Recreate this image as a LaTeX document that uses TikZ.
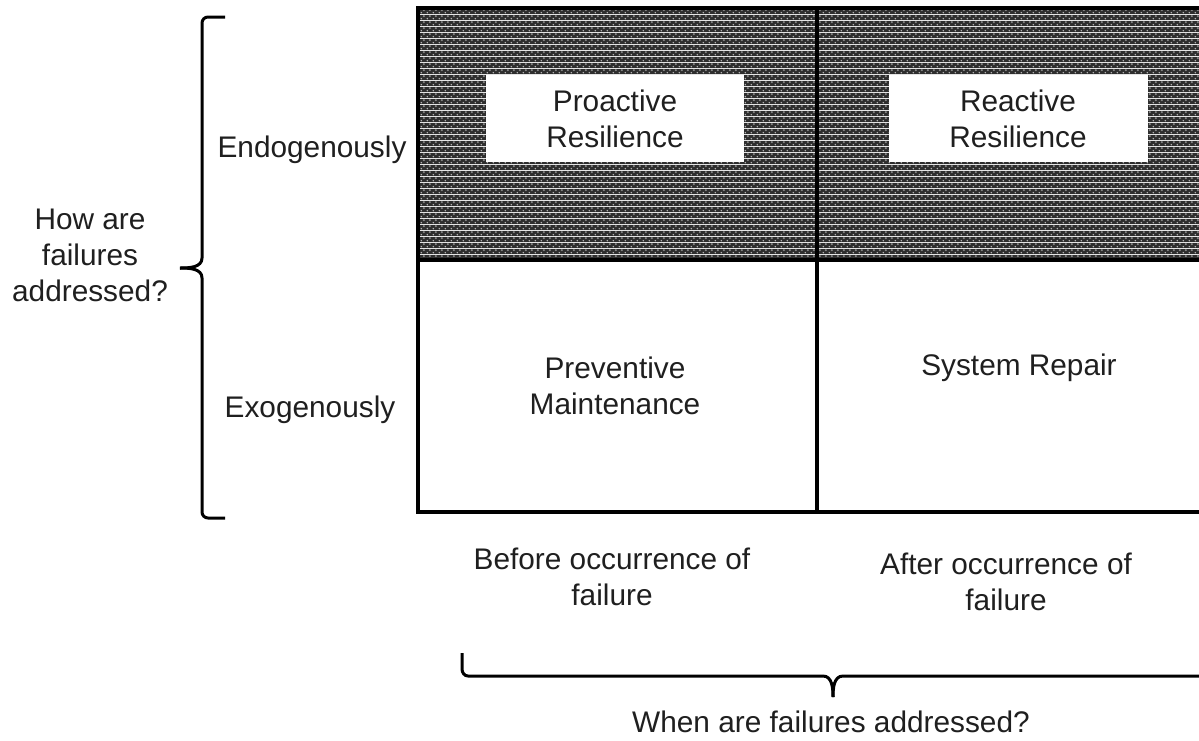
\documentclass[tikz,border=0pt]{standalone}
\usepackage{fontspec}
\setmainfont{Liberation Sans}
\usetikzlibrary{patterns.meta}
\tikzdeclarepattern{
  name=meshdots,
  type=colored,
  bottom left={(0pt,0pt)},
  top right={(6pt,6pt)},
  tile size={(6pt,6pt)},
  code={
    \fill[black!82] (0pt,0pt) rectangle (6pt,6pt);
    \fill[white!75!black] (1.5pt,1.5pt) circle (0.9pt);
    \fill[black!45] (4.5pt,4.5pt) circle (1.3pt);
  }
}
\begin{document}
\begin{tikzpicture}[x=1pt,y=-1pt,
  lbl/.style={font=\fontsize{29.8}{36}\selectfont, text=black!88, align=center, inner sep=0pt},
  gridline/.style={line width=4pt, black},
  bracestyle/.style={line width=3pt, black},
  hatchcell/.style={pattern=meshdots},
  whitebox/.style={fill=white, draw=none}]
\useasboundingbox (0,0) rectangle (1199,740);
\begin{scope}
\clip (0,0) rectangle (1199,740);
% hatched top row
\fill[hatchcell] (418,8) rectangle (1222,260);
% white label boxes
\node[whitebox, minimum width=258pt, minimum height=87pt] (pbox) at (615,118.5) {};
\node[whitebox, minimum width=259pt, minimum height=87pt] (rbox) at (1018.5,118.5) {};
% grid lines
\coordinate (tl) at (418,8);
\coordinate (br) at (1222,512);
\draw[gridline] (tl) rectangle (br);
\coordinate (vt) at (817,8);
\coordinate (vb) at (817,512);
\draw[gridline] (vt) -- (vb);
\coordinate (hl) at (418,260);
\coordinate (hr) at (1222,260);
\draw[gridline] (hl) -- (hr);
% cell texts
\node[lbl] (pr) at (615,119) {Proactive\\Resilience};
\node[lbl] (rr) at (1018,119) {Reactive\\Resilience};
\node[lbl] (pm) at (615,386) {Preventive\\Maintenance};
\node[lbl] (sr) at (1019,368) {System Repair};
% row labels
\node[lbl] (endo) at (312,150) {Endogenously};
\node[lbl] (exo) at (310,410) {Exogenously};
\node[lbl] (how) at (90,255) {How are\\failures\\addressed?};
% column labels
\node[lbl] (before) at (612,577) {Before occurrence of\\failure};
\node[lbl] (after) at (1006,582) {After occurrence of\\failure};
\node[lbl] (when) at (831,722) {When are failures addressed?};
% left brace
\draw[bracestyle] (225,17) -- (208,17) to[out=180,in=90] (202,23) -- (202,258)
  to[out=-90,in=0] (180,268);
\draw[bracestyle] (180,268) to[out=0,in=90] (202,278) -- (202,512)
  to[out=-90,in=180] (208,518) -- (225,518);
% bottom brace
\draw[bracestyle] (462,653) -- (462,669) to[out=-90,in=180] (468,676) -- (823,676)
  to[out=0,in=90] (833,697);
\draw[bracestyle] (833,697) to[out=90,in=180] (843,676) -- (1210,676);
\end{scope}
\end{tikzpicture}
\end{document}
